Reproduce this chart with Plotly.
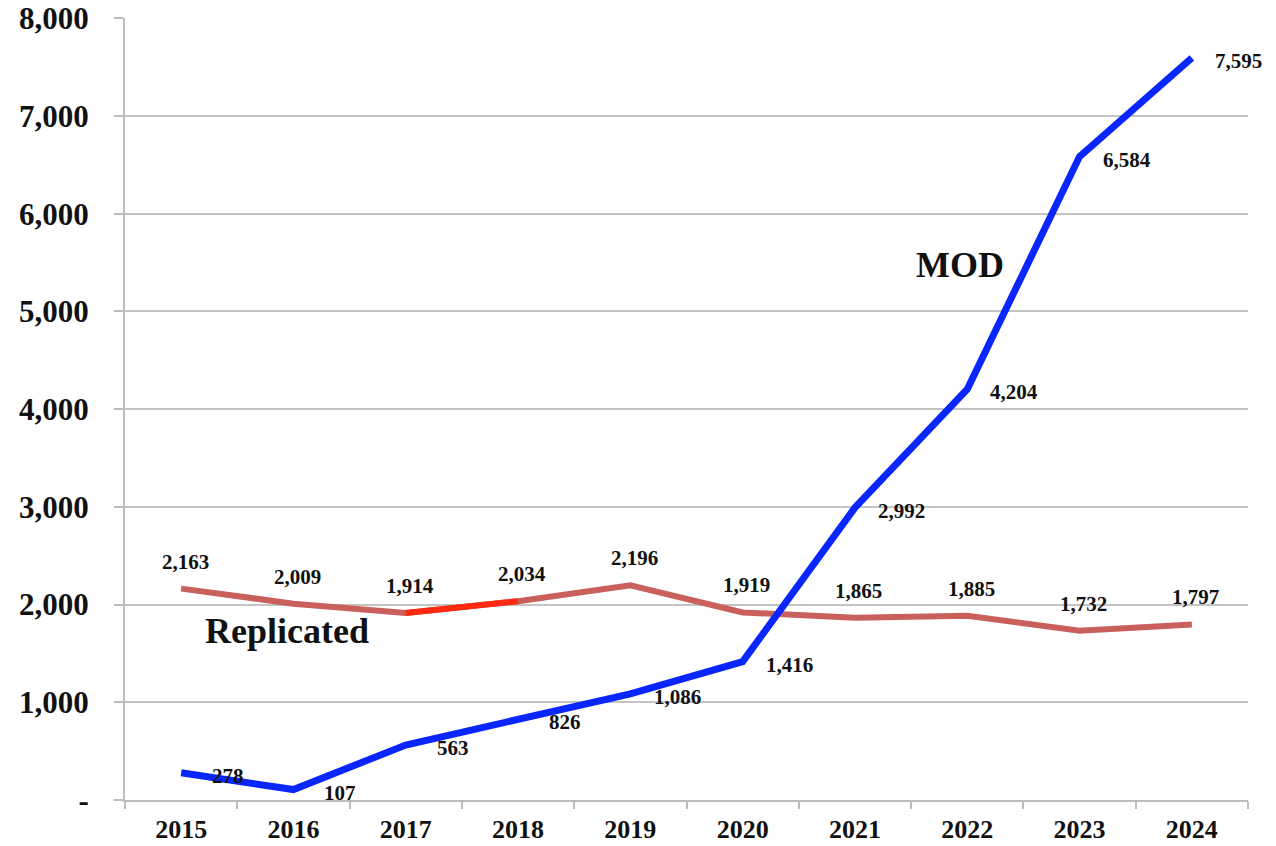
import plotly.graph_objects as go

years = ["2015", "2016", "2017", "2018", "2019", "2020", "2021", "2022", "2023", "2024"]
mod = [278, 107, 563, 826, 1086, 1416, 2992, 4204, 6584, 7595]
replicated = [2163, 2009, 1914, 2034, 2196, 1919, 1865, 1885, 1732, 1797]
highlight_years = ["2017", "2018"]
ytick_vals = [0, 1000, 2000, 3000, 4000, 5000, 6000, 7000, 8000]
ytick_text = ["-", "1,000", "2,000", "3,000", "4,000", "5,000", "6,000", "7,000", "8,000"]

FONT = "Liberation Serif"
BLUE = "#0a26ff"
DUSTY = "#c9605c"
BRIGHT = "#ff2a10"

fig = go.Figure()
fig.add_trace(go.Scatter(x=years, y=replicated, mode="lines",
                         line=dict(color=DUSTY, width=6), hoverinfo="skip"))
hl = [replicated[years.index(y)] for y in highlight_years]
fig.add_trace(go.Scatter(x=highlight_years, y=hl, mode="lines",
                         line=dict(color=BRIGHT, width=6), hoverinfo="skip"))
fig.add_trace(go.Scatter(x=years, y=mod, mode="lines",
                         line=dict(color=BLUE, width=7), hoverinfo="skip"))

annotations = []
for i, v in enumerate(mod):
    annotations.append(dict(x=i, y=v, xref="x", yref="y", text=f"<b>{v:,}</b>", showarrow=False,
                            xshift=47, yshift=-3, xanchor="center", yanchor="middle",
                            font=dict(family=FONT, size=21, color="#111")))
for i, v in enumerate(replicated):
    annotations.append(dict(x=i, y=v, xref="x", yref="y", text=f"<b>{v:,}</b>", showarrow=False,
                            xshift=4, yshift=27, xanchor="center", yanchor="middle",
                            font=dict(family=FONT, size=21, color="#111")))
annotations.append(dict(xref="paper", yref="paper", x=0.7435, y=0.684, text="<b>MOD</b>",
                        xanchor="center", yanchor="middle",
                        showarrow=False, font=dict(family=FONT, size=36, color="#111")))
annotations.append(dict(xref="paper", yref="paper", x=0.1443, y=0.216, text="<b>Replicated</b>",
                        xanchor="center", yanchor="middle",
                        showarrow=False, font=dict(family=FONT, size=36, color="#111")))

fig.update_layout(
    width=1276, height=846,
    margin=dict(l=125, r=28, t=18, b=46, autoexpand=False),
    plot_bgcolor="white", paper_bgcolor="white",
    showlegend=False,
    annotations=annotations,
    font=dict(family=FONT, color="#111"),
)
fig.update_xaxes(
    type="category", range=[-0.5, 9.5], automargin=False,
    showline=True, linecolor="#bdbdbd", linewidth=2,
    ticks="outside", tickson="boundaries", ticklen=7, tickcolor="#bdbdbd", tickwidth=2,
    showgrid=False, zeroline=False, ticklabelstandoff=5,
    tickfont=dict(family=FONT, size=26, color="#111", weight="bold"),
)
fig.update_yaxes(
    range=[0, 8002], tickvals=ytick_vals, ticktext=ytick_text, automargin=False,
    showline=True, linecolor="#bdbdbd", linewidth=2,
    ticks="outside", ticklen=9, tickcolor="#bdbdbd", tickwidth=1.5,
    showgrid=True, gridcolor="#c4c4c4", gridwidth=1.5, zeroline=False,
    ticklabelstandoff=19, ticklabeloverflow="allow",
    tickfont=dict(family=FONT, size=31, color="#111", weight="bold"),
)

fig.write_html("out.html", config={"displayModeBar": False},
               post_script="document.body.style.margin='0';document.body.style.overflow='hidden';")
